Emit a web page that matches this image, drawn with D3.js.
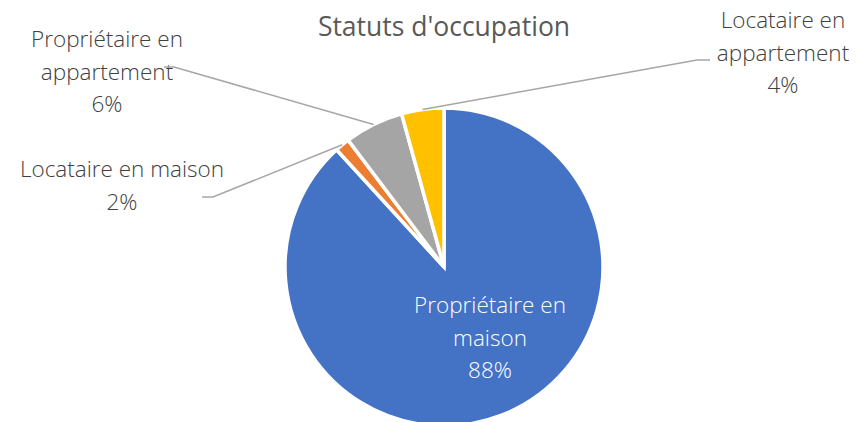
<!DOCTYPE html>
<html><head><meta charset="utf-8">
<script src="https://cdn.jsdelivr.net/npm/d3@7"></script>
<style>body{margin:0;background:#fff}svg{display:block}</style>
</head><body>
<svg id="chart" width="859" height="422"></svg>
<script>
const categories = ["Propriétaire en maison", "Locataire en maison", "Propriétaire en appartement", "Locataire en appartement"];
const values = [88.2, 1.5, 6.0, 4.3];
const colors = ["#4472C4", "#ED7D31", "#A5A5A5", "#FFC000"];
const labelLines = [["Propriétaire en", "maison"], ["Locataire en maison"], ["Propriétaire en", "appartement"], ["Locataire en", "appartement"]];
const title = "Statuts d'occupation";

const W = 859, H = 422;
const cx = 444, cy = 267, R = 159;
const FONT = "'Open Sans', sans-serif";
const svg = d3.select("#chart");

svg.append("text").attr("x", 444).attr("y", 36).attr("text-anchor", "middle")
  .attr("font-family", FONT).attr("font-size", 26.5).attr("fill", "#595959").text(title);

const data = categories.map((c, i) => ({cat: c, value: values[i], color: colors[i], lines: labelLines[i]}));
const total = d3.sum(values);
const pie = d3.pie().value(d => d.value).sort(null);
const arcs = pie(data);
const arc = d3.arc().innerRadius(0).outerRadius(R);

const g = svg.append("g").attr("transform", `translate(${cx},${cy})`);
g.selectAll("path").data(arcs).join("path")
  .attr("d", arc).attr("fill", d => d.data.color)
  .attr("stroke", "#fff").attr("stroke-width", 3.5).attr("stroke-linejoin", "miter");

const layout = [
  {x: 490, y: 313, inside: true},
  {x: 122, y: 177, elbow: [[213, 197], [202, 197]]},
  {x: 107, y: 47, elbow: [[174, 67], [164, 67]]},
  {x: 783, y: 28, elbow: [[697, 60], [710, 60]]}
];
const lh = 32.5;

arcs.forEach((a, i) => {
  const L = layout[i];
  const pct = Math.round(a.data.value / total * 100) + "%";
  const lines = a.data.lines.concat([pct]);
  const t = svg.append("text").attr("text-anchor", "middle")
    .attr("font-family", FONT).attr("font-size", 22.5).attr("font-weight", 300)
    .attr("fill", L.inside ? "#ffffff" : "#404040");
  lines.forEach((s, k) => t.append("tspan").attr("x", L.x).attr("y", L.y + k * lh).text(s));
  if (!L.inside) {
    const mid = (a.startAngle + a.endAngle) / 2;
    const p0 = [cx + R * Math.sin(mid), cy - R * Math.cos(mid)];
    const pts = [p0].concat(L.elbow);
    svg.append("path").attr("d", d3.line()(pts)).attr("fill", "none")
      .attr("stroke", "#A6A6A6").attr("stroke-width", 1.5);
  }
});
</script>
</body></html>
